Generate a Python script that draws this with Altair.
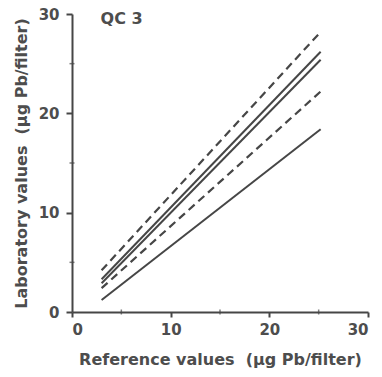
import altair as alt
import pandas as pd

# Regression lines: laboratory vs reference lead values, QC sample 3
line_id = ["dash_hi", "lab_1", "lab_2", "dash_lo", "lab_3"]
line_style = ["dashed", "solid", "solid", "dashed", "solid"]
x_from = [3.0, 3.0, 3.0, 3.0, 3.0]
x_to = [25.2, 25.2, 25.2, 25.2, 25.2]
y_from = [4.2, 3.3, 2.9, 2.4, 1.2]
y_to = [28.2, 26.2, 25.4, 22.2, 18.4]

major_ticks = [0, 10, 20, 30]
minor_ticks = [5, 15, 25]

rows = []
for i, name in enumerate(line_id):
    rows.append({"line": name, "style": line_style[i], "ref": x_from[i], "lab": y_from[i]})
    rows.append({"line": name, "style": line_style[i], "ref": x_to[i], "lab": y_to[i]})
df = pd.DataFrame(rows)

ink = "#464646"
text_ink = "#4d4d4d"
font = "DejaVu Sans"
gap = "\u00a0\u00a0"

x_scale = alt.Scale(domain=[0, 30], nice=False, zero=True)
y_scale = alt.Scale(domain=[0, 30], nice=False, zero=True)

x_enc = alt.X("ref:Q", scale=x_scale,
              axis=alt.Axis(values=major_ticks, title=f"Reference values{gap}(µg Pb/filter)",
                            grid=False, tickSize=5, labelPadding=5, titlePadding=14))
y_enc = alt.Y("lab:Q", scale=y_scale,
              axis=alt.Axis(values=major_ticks, title=f"Laboratory values{gap}(µg Pb/filter)",
                            grid=False, tickSize=6, labelPadding=7, titlePadding=9))

solid = alt.Chart(df).transform_filter(alt.datum.style == "solid").mark_line(
    color=ink, strokeWidth=2
).encode(x=x_enc, y=y_enc, detail="line:N")

dashed = alt.Chart(df).transform_filter(alt.datum.style == "dashed").mark_line(
    color=ink, strokeWidth=2.2, strokeDash=[8, 5]
).encode(x="ref:Q", y="lab:Q", detail="line:N")

minor_df = pd.DataFrame({"v": minor_ticks})
minor_x = alt.Chart(minor_df).mark_tick(orient="vertical", size=5, thickness=1.5, color=ink).encode(
    x="v:Q", y=alt.datum(0)
)
minor_y = alt.Chart(minor_df).mark_tick(orient="horizontal", size=5, thickness=1.5, color=ink).encode(
    y="v:Q", x=alt.datum(0)
)

label_df = pd.DataFrame({"ref": [2.9], "lab": [29.5], "txt": ["QC 3"]})
label = alt.Chart(label_df).mark_text(
    align="left", baseline="middle", fontSize=16, font=font, fontWeight="bold", color=text_ink
).encode(x="ref:Q", y="lab:Q", text="txt:N")

chart = alt.layer(solid, dashed, minor_x, minor_y, label).properties(
    width=296, height=298,
    autosize=alt.AutoSizeParams(type="none"),
    padding={"left": 72, "top": 14, "right": 14, "bottom": 65},
).configure_view(stroke=None).configure_axis(
    domainColor=ink, domainWidth=2, tickColor=ink, tickWidth=2,
    labelFont=font, labelFontSize=15, labelFontWeight="bold", labelColor=text_ink,
    titleFont=font, titleFontSize=16, titleFontWeight="bold", titleColor=text_ink,
)

chart.save("out.html", embed_options={"renderer": "svg", "actions": False})
